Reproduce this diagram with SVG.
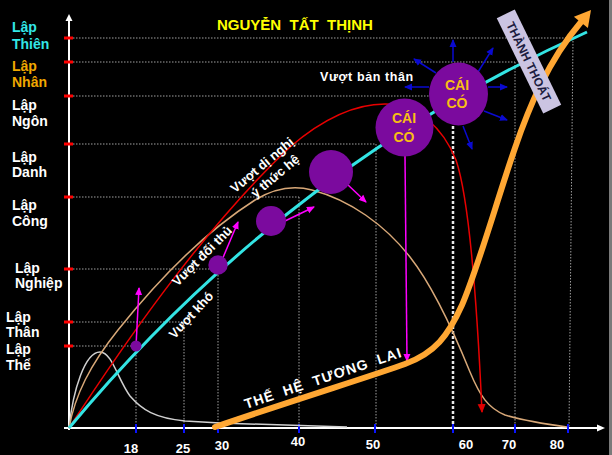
<svg xmlns="http://www.w3.org/2000/svg" width="612" height="455" viewBox="0 0 612 455">
<defs>
<style>
text{font-family:"Liberation Sans",Arial,sans-serif;font-weight:bold}
.lab{font-size:14px;fill:#fff}
.num{font-size:13px;fill:#fff;text-anchor:middle}
.grid{stroke:#a0a0a0;stroke-width:1;stroke-dasharray:1.5 1.5;fill:none}
.tick{stroke:#ff0000;stroke-width:3}
.xt{stroke:#0a14ff;stroke-width:2}
.bub{fill:#7b0a9e}
.mag{stroke:#ff00ff;stroke-width:1.5;fill:none;marker-end:url(#am)}
.blu{stroke:#0a0ad0;stroke-width:1.5;fill:none;marker-end:url(#ab)}
.rot{font-size:13px;fill:#fff;text-anchor:middle}
.cc{font-size:14px;fill:#f8be14;text-anchor:middle}
</style>
<marker id="am" markerWidth="8" markerHeight="8" refX="7" refY="4" orient="auto" markerUnits="userSpaceOnUse"><path d="M0,0.5 L8,4 L0,7.5 z" fill="#ff00ff"/></marker>
<marker id="ab" markerWidth="8" markerHeight="8" refX="7" refY="4" orient="auto" markerUnits="userSpaceOnUse"><path d="M0,0.5 L8,4 L0,7.5 z" fill="#0a0ad0"/></marker>
<marker id="ar" markerWidth="9" markerHeight="9" refX="8" refY="4.5" orient="auto" markerUnits="userSpaceOnUse"><path d="M0,0.5 L9,4.5 L0,8.5 z" fill="#e00000"/></marker>
</defs>
<rect x="0" y="0" width="612" height="455" fill="#000"/>
<rect x="609" y="0" width="3" height="455" fill="#7a7a7a"/>

<g id="grid">
<path class="grid" d="M73,38 H573 M73,62 H515 M73,96 H453 M73,144 H376 M73,197 H299 M73,269 H218 M73,322 H184 M73,346 H136"/>
<path class="grid" d="M136,346 V428 M184,322 V428 M218,269 V428 M299,197 V428 M376,144 V428 M515,62 V428 M573,38 L569,428"/>
<path d="M453,126 V428" stroke="#e8e8e8" stroke-width="2.5" stroke-dasharray="3 2" fill="none"/>
</g>

<g id="axes">
<line x1="69" y1="20" x2="69" y2="430" stroke="#fff" stroke-width="2"/>
<polygon points="69,14 65.5,21 72.5,21" fill="#fff"/>
<line x1="64" y1="428" x2="598" y2="428" stroke="#fff" stroke-width="2"/>
<polygon points="605,428 597,424.5 597,431.5" fill="#fff"/>
<path class="tick" d="M64,38 H73 M64,62 H73 M64,96 H73 M64,144 H73 M64,197 H73 M64,269 H73 M64,322 H73 M64,346 H73"/>
<path class="xt" d="M136,424 V433 M184,424 V433 M218,424 V433 M299,424 V433 M375,424 V433 M453,424 V433 M515,424 V433 M568,424 V433"/>
</g>

<g id="ylabels" class="lab">
<text x="12" y="32" style="fill:#33e6e6">Lập</text>
<text x="12" y="49" style="fill:#33e6e6">Thiên</text>
<text x="12" y="71" style="fill:#f0a800">Lập</text>
<text x="12" y="87" style="fill:#f0a800">Nhân</text>
<text x="12" y="110">Lập</text>
<text x="12" y="126">Ngôn</text>
<text x="12" y="162">Lập</text>
<text x="12" y="177">Danh</text>
<text x="12" y="210">Lập</text>
<text x="12" y="226">Công</text>
<text x="15" y="273">Lập</text>
<text x="15" y="288">Nghiệp</text>
<text x="6" y="322">Lập</text>
<text x="6" y="337">Thân</text>
<text x="6" y="354">Lập</text>
<text x="6" y="370">Thể</text>
</g>

<g id="xlabels" class="num">
<text x="131" y="453">18</text>
<text x="183" y="453">25</text>
<text x="222" y="450">30</text>
<text x="298" y="446">40</text>
<text x="373" y="449">50</text>
<text x="466" y="449">60</text>
<text x="509" y="449">70</text>
<text x="557" y="449">80</text>
</g>

<text id="title" x="217" y="30" style="font-size:15px;fill:#ffff00;white-space:pre">NGUYỄN  TẤT  THỊNH</text>

<g id="connectors">
<path id="bell" d="M69,428 C73,390 85,352 100,352 C112,352 118,380 130,396 C142,410 155,418 185,421 L220,423 L347,427" fill="none" stroke="#d0d0d0" stroke-width="1.5"/>
<path id="tan" d="M69,428 C75,395 90,365 118,330 C150,290 200,235 255,200 C278,186 297,186 312,190 C350,200 385,225 410,257 C432,285 455,335 470,372 C480,396 488,408 505,415 C525,421 545,424 567,427" fill="none" stroke="#d8a878" stroke-width="1.5"/>
<path id="red" d="M69,428 C120,350 200,232 290,147 C325,117 355,104 385,104 C418,104 443,128 456,160 C468,195 476,280 482,412" fill="none" stroke="#e80000" stroke-width="1.5" marker-end="url(#ar)"/>
<path id="cyan" d="M69,428 Q286,167 587,32" fill="none" stroke="#33e4e4" stroke-width="3"/>
<path class="mag" d="M136,346 L139,288"/>
<path class="mag" d="M222,260 L238,222"/>
<path class="mag" d="M285,221 L314,207"/>
<path class="mag" d="M347,184 L366,202"/>
<path class="mag" d="M405,156 L407,361"/>
<path class="blu" d="M453,62 L453,40"/>
<path class="blu" d="M478,72 L493,48"/>
<path class="blu" d="M488,87 L507,87"/>
<path class="blu" d="M484,111 L507,120"/>
<path class="blu" d="M463,126 L472,149"/>
<path class="blu" d="M429,87 L405,87"/>
<path class="blu" d="M436,73 L414,59"/>
</g>

<g id="orange">
<path d="M215,427 C300,398 375,375 405,364 C435,353 448,336 462,305 C478,268 497,200 515,148 C528,110 547,62 581,22" fill="none" stroke="#ffa733" stroke-width="6" stroke-linecap="round"/>
<polygon points="591,10 573.9,16.7 587.9,28.1" fill="#ffa733"/>
</g>

<g id="thanh-thoat" transform="translate(529,61.5) rotate(64)">
<rect x="-53" y="-10" width="106" height="20" fill="#cbc4e2"/>
<text x="0" y="4.5" text-anchor="middle" style="font-size:12px;fill:#1c1c40">THÀNH THOÁT</text>
</g>

<g id="bubble1"><circle class="bub" cx="136" cy="346" r="5.5"/></g>
<g id="bubble2"><circle class="bub" cx="218" cy="265" r="9.7"/></g>
<g id="bubble3"><circle class="bub" cx="271" cy="221" r="15"/></g>
<g id="bubble4"><circle class="bub" cx="331" cy="172" r="22"/></g>
<g id="caico1"><circle class="bub" cx="404.5" cy="127.5" r="29"/>
<text class="cc" x="404" y="123">CÁI</text><text class="cc" x="404" y="142">CÓ</text></g>
<g id="caico2"><ellipse class="bub" cx="458.5" cy="94" rx="29.5" ry="31.5"/>
<text class="cc" x="457" y="90">CÁI</text><text class="cc" x="457" y="108">CÓ</text></g>

<g id="labels">
<text x="320" y="81" style="font-size:12.5px;fill:#fff;letter-spacing:0.6px">Vượt bản thân</text>
<text class="rot" transform="translate(191,315) rotate(-47)" y="4.5">Vượt khó</text>
<text class="rot" transform="translate(202,256) rotate(-45)" y="4.5">Vượt đối thủ</text>
<text class="rot" transform="translate(262,165) rotate(-40)" y="4.5">Vượt dị nghị</text>
<text class="rot" transform="translate(275,176) rotate(-40)" y="4.5">ý thức hệ</text>
<text transform="translate(323,378) rotate(-18.5)" y="5" text-anchor="middle" style="font-size:14px;fill:#fff;white-space:pre;letter-spacing:1px">THẾ  HỆ  TƯƠNG  LAI</text>
</g>
</svg>
